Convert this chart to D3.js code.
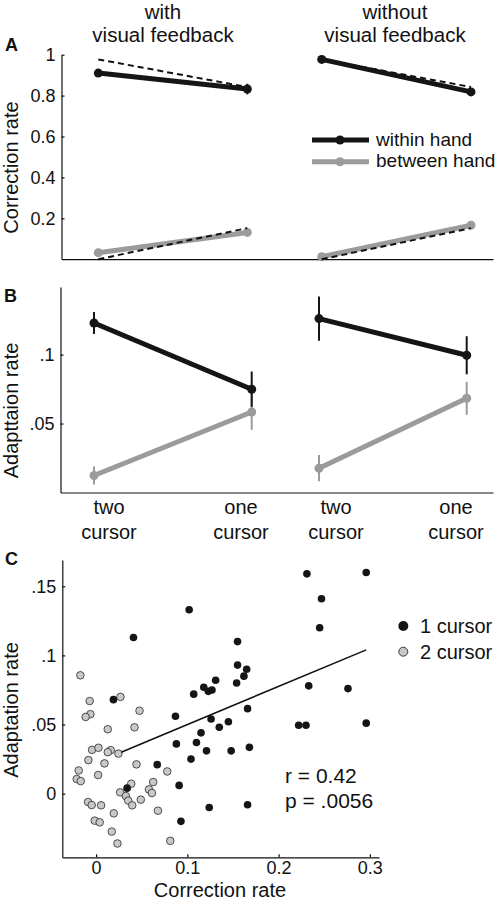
<!DOCTYPE html>
<html><head><meta charset="utf-8">
<script src="https://cdn.jsdelivr.net/npm/d3@7"></script>
<style>
body{margin:0;background:#fff}
svg{display:block}
text{font-family:"Liberation Sans",Arial,Helvetica,sans-serif;fill:#111}
</style>
</head><body>
<svg id="chart" width="498" height="905"></svg>
<script>
// ---------------- DATA ----------------
const conditions = ["two cursor", "one cursor"];
const groupTitles = [["with", "visual feedback"], ["without", "visual feedback"]];
const seriesNames = ["within hand", "between hand"];

// Panel A: correction rate
const aTicks = [0.2, 0.4, 0.6, 0.8, 1];
const aTickLabels = ["0.2", "0.4", "0.6", "0.8", "1"];
const corrWithinWith = [0.91, 0.832];
const corrWithinWithErr = [0.014, 0.026];
const corrBetweenWith = [0.032, 0.131];
const corrBetweenWithErr = [0.006, 0.008];
const corrWithinWithout = [0.977, 0.818];
const corrWithinWithoutErr = [0.006, 0.01];
const corrBetweenWithout = [0.012, 0.166];
const corrBetweenWithoutErr = [0.004, 0.006];
const predictedWithin = [0.977, 0.842];
const predictedBetween = [0.0, 0.152];

// Panel B: adaptation rate
const bTicks = [0.05, 0.1];
const bTickLabels = [".05", ".1"];
const adaptWithinWith = [0.1229, 0.0749];
const adaptWithinWithErr = [0.008, 0.0128];
const adaptBetweenWith = [0.0123, 0.0584];
const adaptBetweenWithErr = [0.0065, 0.013];
const adaptWithinWithout = [0.1261, 0.0995];
const adaptWithinWithoutErr = [0.016, 0.0138];
const adaptBetweenWithout = [0.0176, 0.0683];
const adaptBetweenWithoutErr = [0.0095, 0.012];

// Panel C: scatter
const cXTicks = [0, 0.1, 0.2, 0.3];
const cXTickLabels = ["0", "0.1", "0.2", "0.3"];
const cYTicks = [0, 0.05, 0.1, 0.15];
const cYTickLabels = ["0", ".05", ".1", ".15"];
const scatterLegend = ["1 cursor", "2 cursor"];
const oneCursorX = [0.019, 0.041, 0.102, 0.034, 0.067, 0.087, 0.088, 0.091, 0.093, 0.107,
  0.104, 0.110, 0.115, 0.118, 0.123, 0.127, 0.126, 0.121, 0.124, 0.131,
  0.135, 0.145, 0.148, 0.155, 0.155, 0.154, 0.165, 0.162, 0.166, 0.168,
  0.166, 0.231, 0.296, 0.247, 0.245, 0.233, 0.276, 0.222, 0.230, 0.296];
const oneCursorY = [0.068, 0.113, 0.133, 0.004, 0.021, 0.056, 0.036, 0.006, -0.020, 0.072,
  0.025, 0.037, 0.044, 0.077, 0.074, 0.075, 0.054, 0.031, -0.010, 0.082,
  0.048, 0.052, 0.031, 0.110, 0.093, 0.080, 0.090, 0.085, 0.0615, 0.0335,
  -0.008, 0.159, 0.160, 0.141, 0.120, 0.078, 0.076, 0.0495, 0.0495, 0.051];
const twoCursorX = [-0.0172, -0.007, -0.0062, -0.0114, 0.0267, 0.0476, 0.0128, 0.0421, -0.0044, 0.0026,
  -0.0084, 0.0161, 0.0128, 0.0245, 0.0092, 0.0443, -0.019, -0.0212, -0.0168, 0.0022,
  0.078, 0.0264, 0.0385, 0.0326, 0.0352, 0.0396, 0.049, 0.0579, 0.0626, 0.0612,
  0.0678, -0.0088, -0.0048, 0.0055, -0.0015, 0.004, 0.0194, 0.0172, 0.0234, 0.0813];
const twoCursorY = [0.0856, 0.067, 0.0575, 0.0555, 0.070, 0.060, 0.0466, 0.048, 0.0317, 0.0332,
  0.0243, 0.0315, 0.030, 0.029, 0.0219, 0.0212, 0.0168, 0.0106, 0.0091, 0.0135,
  0.0161, 0.001, 0.0072, -0.0017, -0.005, -0.0084, -0.0043, 0.0031, 0.0084, 0.0005,
  -0.0123, -0.006, -0.0082, -0.0084, -0.0195, -0.0207, -0.0142, -0.0274, -0.036, -0.0341];
const fitX = [0.0275, 0.296];
const fitY = [0.030, 0.104];
const statLines = ["r = 0.42", "p = .0056"];

// ---------------- DRAW ----------------
const svg = d3.select("#chart");
const BLACK = "#151515", GRAY = "#9b9b9b", FONT = '"Liberation Sans",Arial,Helvetica,sans-serif';

function styleAxis(g, size) {
  g.attr("font-family", FONT).attr("font-size", size);
  g.selectAll("path.domain").attr("stroke", "#111").attr("stroke-width", 1.2);
  g.selectAll(".tick line").attr("stroke", "#111").attr("stroke-width", 1.2);
  g.selectAll(".tick text").attr("fill", "#111");
}

function drawSeries(g, x, y, vals, errs, color, width, r) {
  const pts = conditions.map((c, i) => ({ c, v: vals[i], e: errs[i] }));
  g.append("path").datum(pts)
    .attr("fill", "none").attr("stroke", color).attr("stroke-width", width)
    .attr("d", d3.line().x(d => x(d.c)).y(d => y(d.v)));
  g.selectAll(null).data(pts).enter().append("line")
    .attr("x1", d => x(d.c)).attr("x2", d => x(d.c))
    .attr("y1", d => y(d.v - d.e)).attr("y2", d => y(d.v + d.e))
    .attr("stroke", color).attr("stroke-width", 2);
  g.selectAll(null).data(pts).enter().append("circle")
    .attr("cx", d => x(d.c)).attr("cy", d => y(d.v)).attr("r", r).attr("fill", color);
}
function drawDashed(g, x, y, vals) {
  const pts = conditions.map((c, i) => ({ c, v: vals[i] }));
  g.append("path").datum(pts)
    .attr("fill", "none").attr("stroke", "#111").attr("stroke-width", 2)
    .attr("stroke-dasharray", "6,4")
    .attr("d", d3.line().x(d => x(d.c)).y(d => y(d.v)));
}
function yLabel(text, x, yc) {
  svg.append("text").attr("transform", `translate(${x},${yc}) rotate(-90)`)
    .attr("text-anchor", "middle").attr("font-size", 20).text(text);
}
function panelLetter(t, x, y) {
  svg.append("text").attr("x", x).attr("y", y).attr("font-size", 18)
    .attr("font-weight", "bold").text(t);
}

// ===== Panel A =====
const yA = d3.scaleLinear().domain([0, 1]).range([259.2, 54.7]);
const xA = [
  d3.scalePoint().domain(conditions).range([98.3, 247.3]),
  d3.scalePoint().domain(conditions).range([321.7, 471])
];
const gAy = svg.append("g").attr("transform", "translate(61.5,0)")
  .call(d3.axisLeft(yA).tickValues(aTicks).tickFormat((d, i) => aTickLabels[i])
    .tickSize(-3).tickSizeOuter(0).tickPadding(6));
styleAxis(gAy, 18);
const gAx = svg.append("g").attr("transform", `translate(0,${yA(0)})`)
  .call(d3.axisBottom(d3.scaleLinear().range([61.5, 493])).tickValues([]).tickSizeOuter(0));
styleAxis(gAx, 18);

// titles
groupTitles.forEach((lines, gi) => {
  const cx = gi === 0 ? 163 : 395;
  lines.forEach((ln, li) => {
    svg.append("text").attr("x", cx).attr("y", li === 0 ? 18.8 : 42.3)
      .attr("text-anchor", "middle").attr("font-size", 20.5).text(ln);
  });
});

const gA = svg.append("g");
drawSeries(gA, xA[0], yA, corrBetweenWith, corrBetweenWithErr, GRAY, 5, 4.5);
drawSeries(gA, xA[1], yA, corrBetweenWithout, corrBetweenWithoutErr, GRAY, 5, 4.5);
drawDashed(gA, xA[0], yA, predictedWithin);
drawDashed(gA, xA[0], yA, predictedBetween);
drawDashed(gA, xA[1], yA, predictedWithin);
drawDashed(gA, xA[1], yA, predictedBetween);
drawSeries(gA, xA[0], yA, corrWithinWith, corrWithinWithErr, BLACK, 5, 4.5);
drawSeries(gA, xA[1], yA, corrWithinWithout, corrWithinWithoutErr, BLACK, 5, 4.5);

// legend A
[[BLACK, 140, 145.7], [GRAY, 161.7, 166.7]].forEach(([col, ly, ty], i) => {
  svg.append("line").attr("x1", 312).attr("x2", 369).attr("y1", ly).attr("y2", ly)
    .attr("stroke", col).attr("stroke-width", 5);
  svg.append("circle").attr("cx", 340).attr("cy", ly).attr("r", 4.5).attr("fill", col);
  svg.append("text").attr("x", 376).attr("y", ty).attr("font-size", 19).text(seriesNames[i]);
});
yLabel("Correction rate", 18, 167.5);
panelLetter("A", 5, 51);

// ===== Panel B =====
const yB = d3.scaleLinear().domain([0, 0.149]).range([492.5, 287]);
const xB = [
  d3.scalePoint().domain(conditions).range([94, 251.7]),
  d3.scalePoint().domain(conditions).range([319, 466.7])
];
const xBLabel = [
  d3.scalePoint().domain(conditions).range([109, 241]),
  d3.scalePoint().domain(conditions).range([336, 456])
];
const gBy = svg.append("g").attr("transform", "translate(60.5,0)")
  .call(d3.axisLeft(yB).tickValues(bTicks).tickFormat((d, i) => bTickLabels[i])
    .tickSize(-3).tickSizeOuter(0).tickPadding(6));
styleAxis(gBy, 18);
const gBx = svg.append("g").attr("transform", `translate(0,${yB(0)})`)
  .call(d3.axisBottom(d3.scaleLinear().range([60.5, 493])).tickValues([]).tickSizeOuter(0));
styleAxis(gBx, 18);

const gB = svg.append("g");
drawSeries(gB, xB[0], yB, adaptBetweenWith, adaptBetweenWithErr, GRAY, 5, 4.5);
drawSeries(gB, xB[1], yB, adaptBetweenWithout, adaptBetweenWithoutErr, GRAY, 5, 4.5);
drawSeries(gB, xB[0], yB, adaptWithinWith, adaptWithinWithErr, BLACK, 5, 4.5);
drawSeries(gB, xB[1], yB, adaptWithinWithout, adaptWithinWithoutErr, BLACK, 5, 4.5);

xBLabel.forEach(sc => {
  conditions.forEach(c => {
    const parts = c.split(" ");
    parts.forEach((p, li) => {
      svg.append("text").attr("x", sc(c)).attr("y", li === 0 ? 514 : 539)
        .attr("text-anchor", "middle").attr("font-size", 20).text(p);
    });
  });
});
yLabel("Adapttaion rate", 18, 410.5);
panelLetter("B", 4, 302);

// ===== Panel C =====
const xC = d3.scaleLinear().domain([-0.037, 0.31]).range([62.3, 379]);
const yC = d3.scaleLinear().domain([-0.046, 0.169]).range([857.3, 560]);
const gCy = svg.append("g").attr("transform", `translate(${xC.range()[0]},0)`)
  .call(d3.axisLeft(yC).tickValues(cYTicks).tickFormat((d, i) => cYTickLabels[i])
    .tickSize(-3).tickSizeOuter(0).tickPadding(6));
styleAxis(gCy, 18);
const gCx = svg.append("g").attr("transform", `translate(0,${yC.range()[0]})`)
  .call(d3.axisBottom(xC).tickValues(cXTicks).tickFormat((d, i) => cXTickLabels[i])
    .tickSize(-3).tickSizeOuter(0).tickPadding(4));
styleAxis(gCx, 18);

const gC = svg.append("g");
gC.selectAll(null).data(twoCursorX.map((x, i) => [x, twoCursorY[i]])).enter()
  .append("circle").attr("cx", d => xC(d[0])).attr("cy", d => yC(d[1])).attr("r", 3.8)
  .attr("fill", "#c8c8c8").attr("stroke", "#2a2a2a").attr("stroke-width", 0.8);
gC.selectAll(null).data(oneCursorX.map((x, i) => [x, oneCursorY[i]])).enter()
  .append("circle").attr("cx", d => xC(d[0])).attr("cy", d => yC(d[1])).attr("r", 3.8)
  .attr("fill", BLACK);
gC.append("path").datum(fitX.map((x, i) => [x, fitY[i]]))
  .attr("fill", "none").attr("stroke", "#111").attr("stroke-width", 1.6)
  .attr("d", d3.line().x(d => xC(d[0])).y(d => yC(d[1])));

// legend C
[[BLACK, "none", 626, 5], ["#c8c8c8", "#2a2a2a", 651.7, 4.5]].forEach(([f, s, cy, r], i) => {
  svg.append("circle").attr("cx", 403.3).attr("cy", cy).attr("r", r)
    .attr("fill", f).attr("stroke", s).attr("stroke-width", 0.9);
  svg.append("text").attr("x", 420).attr("y", cy + 7).attr("font-size", 20).text(scatterLegend[i]);
});
statLines.forEach((t, i) => {
  svg.append("text").attr("x", 285).attr("y", i === 0 ? 783 : 808).attr("font-size", 21).text(t);
});
svg.append("text").attr("x", 220).attr("y", 896.5).attr("text-anchor", "middle")
  .attr("font-size", 20).text("Correction rate");
yLabel("Adaptation rate", 18, 710);
panelLetter("C", 5, 565);
</script>
</body></html>
